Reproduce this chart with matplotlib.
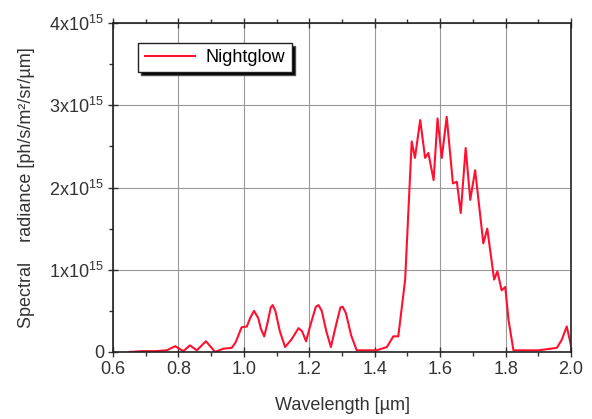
import matplotlib.pyplot as plt
import numpy as np

# Nightglow spectral radiance (values in units of 1e15)
wavelength = [0.65, 0.69, 0.73, 0.764, 0.79, 0.815, 0.835, 0.856, 0.884, 0.912,
              0.937, 0.963, 0.975, 0.993, 1.009, 1.02, 1.031, 1.044, 1.052, 1.062,
              1.072, 1.082, 1.088, 1.096, 1.11, 1.126, 1.145, 1.167, 1.178, 1.19,
              1.205, 1.22, 1.228, 1.238, 1.252, 1.266, 1.28, 1.295, 1.302, 1.312,
              1.328, 1.345, 1.406, 1.437, 1.457, 1.472, 1.493, 1.513, 1.523, 1.539,
              1.554, 1.564, 1.58, 1.592, 1.605, 1.62, 1.639, 1.651, 1.663, 1.678,
              1.692, 1.707, 1.732, 1.744, 1.765, 1.775, 1.788, 1.799, 1.809, 1.824,
              1.9, 1.957, 1.972, 1.987, 2.0]
radiance_e15 = [0.0, 0.01, 0.01, 0.02, 0.07, 0.01, 0.08, 0.02, 0.13, 0.0,
                0.04, 0.05, 0.12, 0.30, 0.31, 0.42, 0.50, 0.41, 0.28, 0.19,
                0.35, 0.54, 0.57, 0.50, 0.25, 0.06, 0.15, 0.29, 0.25, 0.13,
                0.35, 0.55, 0.57, 0.50, 0.25, 0.06, 0.30, 0.54, 0.55, 0.47,
                0.20, 0.02, 0.02, 0.06, 0.19, 0.19, 0.88, 2.56, 2.36, 2.82,
                2.36, 2.42, 2.09, 2.84, 2.36, 2.86, 2.05, 2.07, 1.69, 2.48,
                1.85, 2.21, 1.32, 1.50, 0.88, 0.98, 0.75, 0.79, 0.39, 0.02,
                0.02, 0.05, 0.15, 0.31, 0.08]

x_ticks = [0.6, 0.8, 1.0, 1.2, 1.4, 1.6, 1.8, 2.0]
y_ticks = [0, 1e15, 2e15, 3e15, 4e15]
y_labels = ['0', '1x10$^{15}$', '2x10$^{15}$', '3x10$^{15}$', '4x10$^{15}$']

plt.rcParams['font.family'] = ['Liberation Sans', 'DejaVu Sans']
plt.rcParams['mathtext.default'] = 'regular'

fig = plt.figure(figsize=(5.92, 4.19), dpi=100)
ax = fig.add_axes([0.191, 0.160, 0.7735, 0.785])

ax.plot(wavelength, np.array(radiance_e15) * 1e15, color='#ff1030', lw=1.5, label='Nightglow')

ax.set_xlim(0.6, 2.0)
ax.set_ylim(0, 4e15)
ax.set_xticks(x_ticks)
ax.set_xticklabels([f'{v:.1f}' for v in x_ticks])
ax.set_yticks(y_ticks)
ax.set_yticklabels(y_labels)
ax.set_xticks(np.arange(0.7, 2.0, 0.2), minor=True)
ax.set_yticks(np.arange(0.5e15, 4e15, 1e15), minor=True)

ax.tick_params(axis='both', which='major', labelsize=13, direction='inout', length=7, width=1,
               colors='#333333', pad=3)
ax.tick_params(axis='both', which='minor', direction='out', length=3, width=1, colors='#333333')
ax.tick_params(axis='x', which='both', top=True)
ax.grid(True, which='major', color='#999999', lw=0.8)
for s in ax.spines.values():
    s.set_linewidth(1.2)
    s.set_color('#222222')

ax.set_xlabel('Wavelength [\u00b5m]', fontsize=13, color='#333333', labelpad=14)
ax.set_ylabel('Spectral    radiance [ph/s/m\u00b2/sr/\u00b5m]', fontsize=13, color='#333333', labelpad=10)

leg = ax.legend(loc='upper left', bbox_to_anchor=(0.055, 0.94), borderaxespad=0,
                fontsize=13, handlelength=2.8, handletextpad=0.6, borderpad=0.35,
                fancybox=False, framealpha=1, edgecolor='#222222',
                shadow={'facecolor': 'black', 'alpha': 1.0})
leg.get_frame().set_linewidth(1.0)

fig.savefig('out.png', dpi=100)
